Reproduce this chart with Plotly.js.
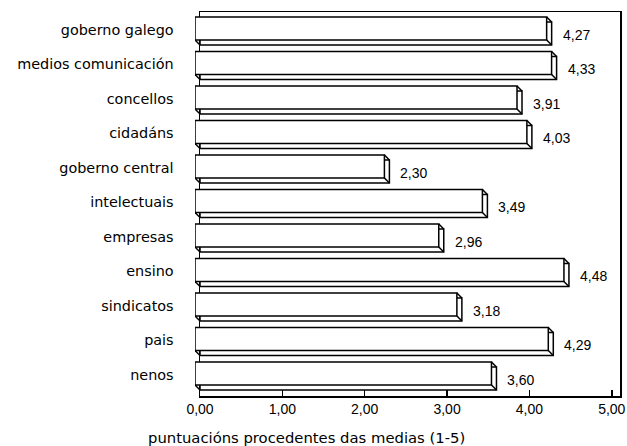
<!DOCTYPE html>
<html>
<head>
<meta charset="utf-8">
<script src="https://cdn.plot.ly/plotly-3.0.1.min.js"></script>
<style>html,body{margin:0;padding:0;background:#fff;}#chart{width:627px;height:446px;}</style>
</head>
<body>
<div id="chart"></div>
<script>
var categories = ["goberno galego", "medios comunicación", "concellos", "cidadáns", "goberno central", "intelectuais", "empresas", "ensino", "sindicatos", "pais", "nenos"];
var values = [4.27, 4.33, 3.91, 4.03, 2.30, 3.49, 2.96, 4.48, 3.18, 4.29, 3.60];
var xTickVals = [0, 1, 2, 3, 4, 5];
var xTickText = ["0,00", "1,00", "2,00", "3,00", "4,00", "5,00"];
var axisTitle = "puntuacións procedentes das medias (1-5)";

var fmt = function (v) { return v.toFixed(2).replace(".", ","); };
var idx = categories.map(function (c, i) { return i; });

var W = 627, H = 446;
var mL = 195, mR = 7, mT = 12, mB = 50;
var depth = 5; // px, 3D depth of the bars
var plotW = W - mL - mR;
var xMax = 5.1;
var LW = 1.5;

var back = {
  type: "bar", orientation: "h",
  x: values, y: categories,
  width: 0.667, offset: -0.232,
  marker: { color: "#ffffff", line: { color: "#000000", width: LW } },
  hoverinfo: "skip", xaxis: "x", yaxis: "y"
};
var front = {
  type: "bar", orientation: "h",
  x: values, y: categories,
  width: 0.667, offset: -0.377,
  marker: { color: "#ffffff", line: { color: "#000000", width: LW } },
  hoverinfo: "skip", xaxis: "x2", yaxis: "y"
};

var shapes = [];
idx.forEach(function (i) {
  var v = values[i];
  var base = { type: "line", yref: "y", xsizemode: "pixel", ysizemode: "pixel",
               yanchor: i, line: { color: "#000", width: LW } };
  // right end: front face corners to back face corners
  shapes.push(Object.assign({}, base, { xref: "x", xanchor: v, x0: -depth, x1: 0, y0: 13, y1: 13 - depth }));
  shapes.push(Object.assign({}, base, { xref: "x", xanchor: v, x0: -depth, x1: 0, y0: -10, y1: -10 - depth }));
  // bottom-left chamfer
  shapes.push(Object.assign({}, base, { xref: "x2", xanchor: 0, x0: 0, x1: depth, y0: -10, y1: -10 - depth }));
});

var annotations = idx.map(function (i) {
  return {
    x: values[i], y: i, xref: "x", yref: "y",
    text: fmt(values[i]), showarrow: false,
    xanchor: "left", yanchor: "middle", xshift: 9, yshift: -5,
    font: { family: "Liberation Sans, Arial, sans-serif", size: 14, color: "#000" }
  };
});

var layout = {
  width: W, height: H,
  margin: { l: mL, r: mR, t: mT, b: mB, pad: 0 },
  paper_bgcolor: "#ffffff", plot_bgcolor: "rgba(0,0,0,0)",
  showlegend: false, barmode: "overlay",
  title: {
    text: axisTitle, xref: "container", yref: "container",
    x: 0.489, xanchor: "center", y: 1 - 438 / H, yanchor: "middle",
    font: { family: "DejaVu Sans, sans-serif", size: 14.8, color: "#000" }
  },
  xaxis: {
    domain: [depth / plotW, 1], anchor: "y",
    range: [0, xMax], tickvals: xTickVals, ticktext: xTickText,
    ticks: "inside", ticklen: 6, tickwidth: LW, tickcolor: "#000",
    showline: true, mirror: true, linecolor: "#000", linewidth: LW,
    showgrid: false, zeroline: false,
    tickfont: { family: "Liberation Sans, Arial, sans-serif", size: 14, color: "#000" }
  },
  xaxis2: {
    domain: [0, 1 - depth / plotW], anchor: "y",
    range: [0, xMax], visible: false, showgrid: false, zeroline: false
  },
  yaxis: {
    anchor: "x",
    type: "category", categoryorder: "array", categoryarray: categories,
    range: [10.61, -0.52],
    ticks: "", showline: true, mirror: true, linecolor: "#000", linewidth: LW,
    showgrid: false, zeroline: false,
    ticklabelstandoff: 22,
    tickfont: { family: "DejaVu Sans, sans-serif", size: 14.4, color: "#000" }
  },
  shapes: shapes,
  annotations: annotations
};

Plotly.newPlot("chart", [back, front], layout, { displayModeBar: false, staticPlot: true });
</script>
</body>
</html>
